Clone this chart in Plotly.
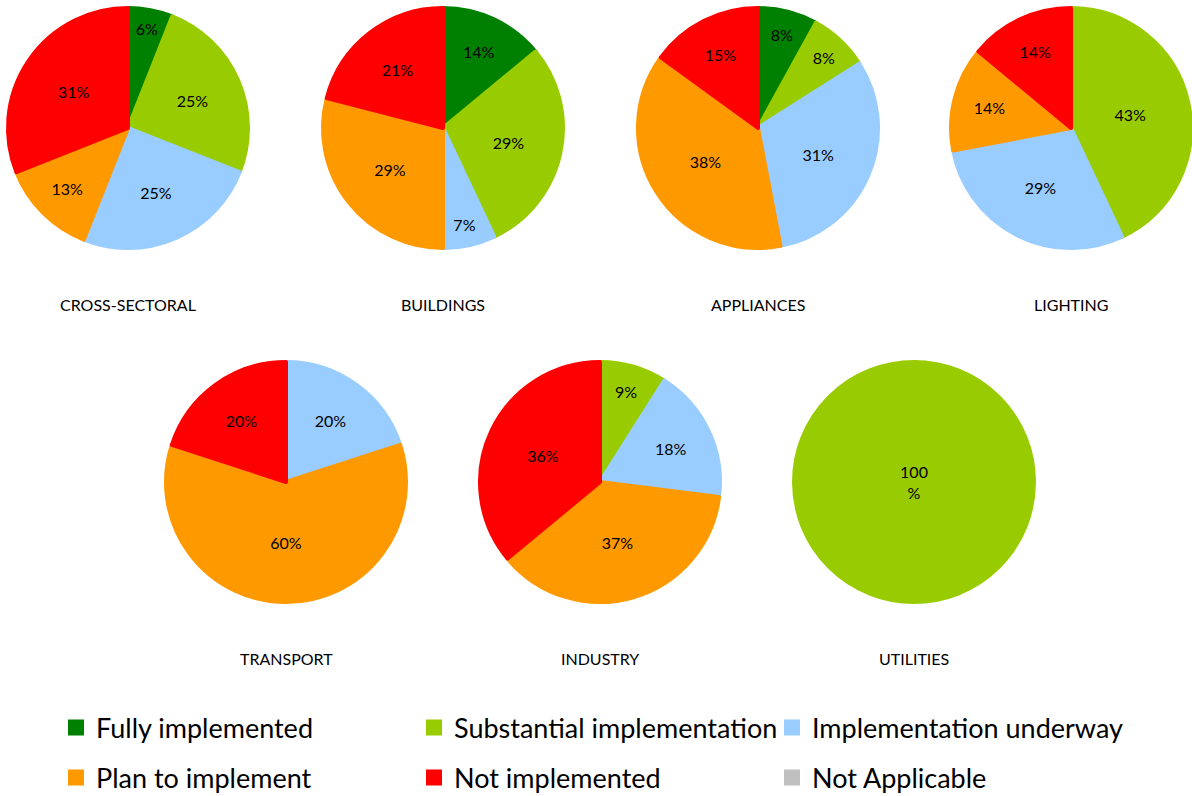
import plotly.graph_objects as go

W, H = 1192, 796

statuses = ["Fully implemented", "Substantial implementation", "Implementation underway",
            "Plan to implement", "Not implemented", "Not Applicable"]
colors = ["#008000", "#99CC00", "#99CCFF", "#FF9900", "#FF0000", "#C0C0C0"]

sectors = ["CROSS-SECTORAL", "BUILDINGS", "APPLIANCES", "LIGHTING",
           "TRANSPORT", "INDUSTRY", "UTILITIES"]
cross_sectoral = [6, 25, 25, 13, 31, 0]
buildings = [14, 29, 7, 29, 21, 0]
appliances = [8, 8, 31, 38, 15, 0]
lighting = [0, 43, 29, 14, 14, 0]
transport = [0, 0, 20, 60, 20, 0]
industry = [0, 9, 18, 37, 36, 0]
utilities = [0, 100, 0, 0, 0, 0]

sector_values = [cross_sectoral, buildings, appliances, lighting,
                 transport, industry, utilities]

# pie centres in pixels (layout only)
centers = [(128, 128), (443, 128), (758, 128), (1071, 128),
           (286, 482), (600, 482), (914, 482)]
R = 120
TITLE_GAP = 176

FONT = "Lato, 'Open Sans', sans-serif"


def label_for(v):
    if v == 100:
        return "100<br>%"
    return f"{v}%"


def frac_domain(cx, cy, r):
    return dict(x=[(cx - r) / W, (cx + r) / W],
                y=[1 - (cy + r) / H, 1 - (cy - r) / H])


fig = go.Figure()

# legend-only pies (near-zero size, hidden under the utilities pie),
# one per legend row so the rows can be spaced like the original
for lg, sl in (("legend", slice(0, 3)), ("legend2", slice(3, 6))):
    fig.add_trace(go.Pie(
        labels=statuses[sl], values=[1] * 3, sort=False,
        marker=dict(colors=colors[sl], line=dict(color=colors[sl], width=4)),
        textinfo="none", hoverinfo="skip", legend=lg, showlegend=True,
        domain=frac_domain(914, 482, 0.01),
    ))

annotations = []
for name, vals, (cx, cy) in zip(sectors, sector_values, centers):
    # drop empty categories so they leave no stroke on the pie
    keep = [i for i, v in enumerate(vals) if v > 0]
    cols = [colors[i] for i in keep]
    fig.add_trace(go.Pie(
        labels=[statuses[i] for i in keep],
        values=[vals[i] for i in keep],
        text=[label_for(vals[i]) for i in keep],
        textinfo="text",
        textposition="inside",
        insidetextorientation="horizontal",
        textfont=dict(family=FONT, size=16, color="black"),
        sort=False,
        direction="clockwise",
        rotation=0,
        marker=dict(colors=cols, line=dict(color=cols, width=4)),
        showlegend=False,
        domain=frac_domain(cx, cy, R),
        name=name,
        hoverinfo="label+percent",
    ))
    annotations.append(dict(
        text=name, x=cx / W, y=1 - (cy + TITLE_GAP) / H,
        xref="paper", yref="paper", showarrow=False,
        xanchor="center", yanchor="middle",
        font=dict(family=FONT, size=16, color="black"),
    ))

legend_style = dict(
    orientation="h", x=56 / W, xanchor="left", yanchor="middle",
    font=dict(family=FONT, size=27, color="black"),
    entrywidth=313, entrywidthmode="pixels",
    bgcolor="rgba(0,0,0,0)", itemclick=False, itemdoubleclick=False,
)

fig.update_layout(
    width=W, height=H,
    margin=dict(l=0, r=0, t=0, b=0, autoexpand=False),
    paper_bgcolor="white", plot_bgcolor="white",
    annotations=annotations,
    legend=dict(legend_style, y=1 - 728 / H),
    legend2=dict(legend_style, y=1 - 778 / H),
)

fig.write_html("out.html", config={"displayModeBar": False},
               post_script="document.body.style.margin='0';")
